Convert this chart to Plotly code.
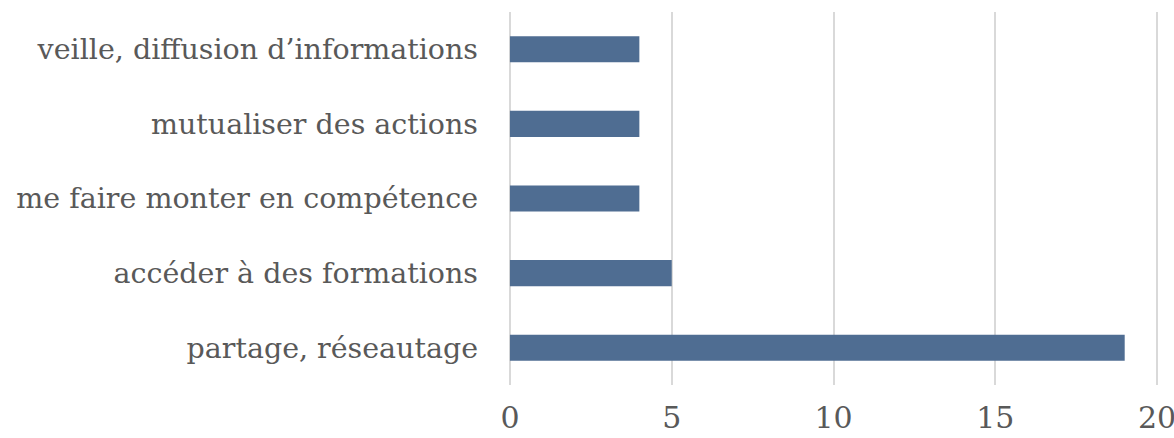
import plotly.graph_objects as go

categories = ["partage, réseautage", "accéder à des formations", "me faire monter en compétence",
              "mutualiser des actions", "veille, diffusion d\u2019informations"]
values = [19, 5, 4, 4, 4]
x_ticks = [0, 5, 10, 15, 20]

FONT = "DejaVu Serif"
fig = go.Figure(go.Bar(
    x=values, y=categories, orientation="h",
    marker=dict(color="#4F6D92", line=dict(width=0)),
))
fig.update_layout(
    width=1174, height=438,
    margin=dict(l=508, r=15, t=12, b=53),
    paper_bgcolor="white", plot_bgcolor="white",
    bargap=0.65, showlegend=False,
    font=dict(family=FONT, size=28, color="#595959"),
)
fig.update_xaxes(range=[-0.06, 20.06], tickvals=x_ticks, showgrid=True, gridcolor="#D9D9D9", gridwidth=1.5,
                 zeroline=False, showline=False, ticks="", ticklabelstandoff=12, automargin=False,
                 ticklabeloverflow="allow",
                 tickfont=dict(family=FONT, size=30, color="#595959"))
fig.update_yaxes(showgrid=False, showline=False, ticks="", ticklabelstandoff=29, automargin=False,
                 tickfont=dict(family=FONT, size=28.5, color="#595959"))
fig.write_html("out.html", config={"displayModeBar": False},
               post_script="document.body.style.margin='0';document.body.style.overflow='hidden';")
